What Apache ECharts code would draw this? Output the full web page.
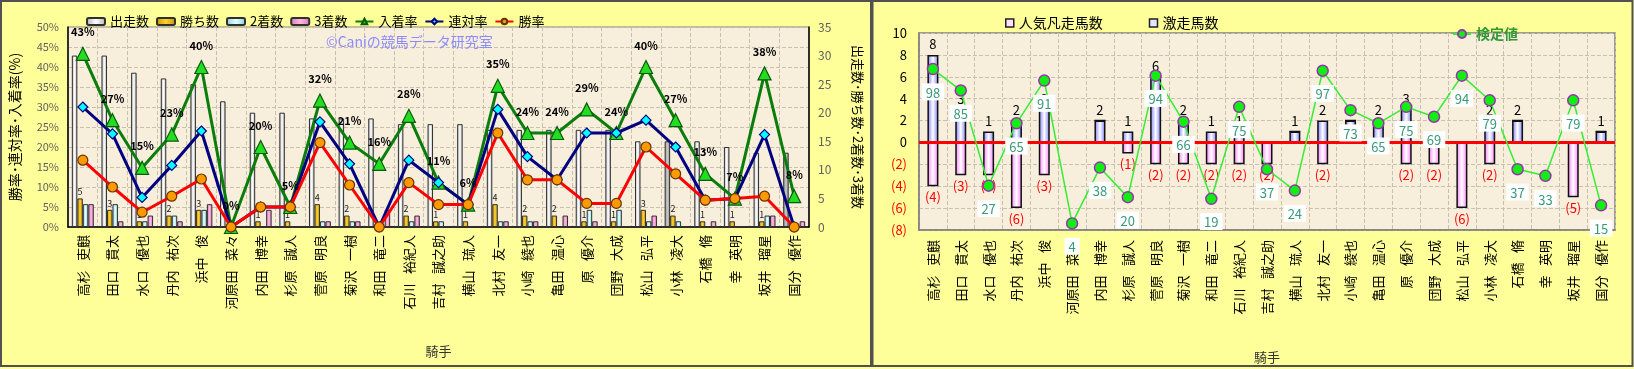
<!DOCTYPE html>
<html><head><meta charset="utf-8">
<script src="https://cdn.jsdelivr.net/npm/echarts@6/dist/echarts.min.js"></script>
<style>
html,body{margin:0;padding:0;background:#fff;overflow:hidden;}
#left{position:absolute;left:0;top:0;width:872px;height:369px;}
#right{position:absolute;left:872px;top:0;width:762px;height:369px;}
</style></head><body>
<div id="left"></div><div id="right"></div>
<script>
const jockeys = ['高杉 吏麒','田口 貫太','水口 優也','丹内 祐次','浜中 俊','河原田 菜々','内田 博幸','杉原 誠人','菅原 明良','菊沢 一樹','和田 竜二','石川 裕紀人','吉村 誠之助','横山 琉人','北村 友一','小崎 綾也','亀田 温心','原 優介','団野 大成','松山 弘平','小林 凌大','石橋 脩','幸 英明','坂井 瑠星','国分 優作'];
const runs    = [30,30,27,26,25,22,20,20,19,19,19,18,18,18,17,17,17,17,17,15,15,15,14,13,13];
const wins    = [5,3,1,2,3,0,1,1,4,2,0,2,1,1,4,2,2,1,1,3,2,1,1,1,0];
const seconds = [4,4,1,2,3,0,0,0,1,1,0,1,1,0,1,1,0,3,3,1,1,0,0,2,0];
const thirds  = [4,1,2,1,4,0,3,0,1,1,3,2,0,0,1,1,2,1,0,2,0,1,0,2,1];
const top3Rate  = [43.3,26.7,14.8,23.1,40,0,20,5,31.6,21.1,15.8,27.8,11.1,5.6,35.3,23.5,23.5,29.4,23.5,40,26.7,13.3,7.1,38.4,7.7];
const top2Rate  = [30,23.3,7.4,15.4,24,0,5,5,26.3,15.8,0,16.7,11.1,5.6,29.4,17.6,11.8,23.5,23.5,26.7,20,6.7,7.1,23.1,0];
const winRate   = [16.7,10,3.7,7.7,12,0,5,5,21.1,10.5,0,11.1,5.6,5.6,23.5,11.8,11.8,5.9,5.9,20,13.3,6.7,7.1,7.7,0];
const upsetCount = [8,3,1,2,3,0,2,1,6,2,1,1,0,1,2,2,2,3,0,0,2,2,0,0,1];
const flopCount  = [-4,-3,-3,-6,-3,0,0,-1,-2,-2,-2,-2,-2,0,-2,0,0,-2,-2,-6,-2,0,0,-5,0];
const testValue  = [98,85,27,65,91,4,38,20,94,66,19,75,37,24,97,73,65,75,69,94,79,37,33,79,15];
const rateTicks = {min:0, max:50, interval:5};
const countTicks = {min:0, max:35, interval:5};
const diffTicks = {min:-8, max:10, interval:2};

const FONT = "'Noto Sans CJK JP', sans-serif";
const nameFmt = v => v.replace(' ', '\u2002 ');
function hGrad(edge, mid){
  return new echarts.graphic.LinearGradient(0,0,1,0,[{offset:0,color:edge},{offset:0.5,color:mid},{offset:1,color:edge}]);
}
const gridLine = {show:true, lineStyle:{color:'#C8C0B0', type:'dashed', width:1}};

// ---------- LEFT CHART ----------
const left = echarts.init(document.getElementById('left'), null, {renderer:'canvas'});
const grayIdx = [20, 24];
const runsData = runs.map((v,i)=> grayIdx.includes(i) ? {value:v, itemStyle:{color:hGrad('#909090','#C8C8C8')}} : v);
function barSeries(name, data, color, extra){
  return Object.assign({
    name, type:'bar', yAxisIndex:1, data,
    barGap:'0%', barCategoryGap:'26%',
    itemStyle:{color, borderColor:'#303030', borderWidth:1},
    emphasis:{disabled:true}
  }, extra||{});
}
function lineSeries(name, data, lineColor, symbol, size, fill, border, extra){
  return Object.assign({
    name, type:'line', yAxisIndex:0, data,
    symbol, symbolSize:size,
    lineStyle:{color:lineColor, width:3},
    itemStyle:{color:fill, borderColor:border, borderWidth:1.2},
    emphasis:{disabled:true}
  }, extra||{});
}
left.setOption({
  animation:false,
  backgroundColor:'#FFFF99',
  textStyle:{fontFamily:FONT},
  graphic:[
    {type:'rect', shape:{x:1,y:1,width:870,height:365}, style:{fill:null, stroke:'#505050', lineWidth:2}, silent:true, z:100},
    {type:'text', left:326, top:35, style:{text:'©Caniの競馬データ研究室', fill:'#8C8CFF', font:'14px '+FONT}, silent:true, z:50}
  ],
  legend:{
    left:81, top:10, itemWidth:18, itemHeight:7, itemGap:7,
    textStyle:{fontSize:13, color:'#000', fontFamily:FONT},
    data:['出走数','勝ち数','2着数','3着数','入着率','連対率','勝率']
  },
  grid:{left:66, top:27, width:748, height:200, show:true, backgroundColor:'#F7EEDC', borderColor:'#808080', borderWidth:1},
  xAxis:{
    type:'category', data:jockeys, boundaryGap:true,
    name:'騎手', nameLocation:'middle', nameGap:118,
    nameTextStyle:{fontSize:13, color:'#333', fontFamily:FONT},
    axisLine:{lineStyle:{color:'#000', width:1.5}},
    axisTick:{show:false},
    axisLabel:{interval:0, rotate:90, fontSize:13, color:'#000', margin:8, fontFamily:FONT, formatter:nameFmt},
    splitLine:{show:true, interval:0, lineStyle:{color:'#C8C0B0', type:'dashed'}}
  },
  yAxis:[
    {type:'value', min:rateTicks.min, max:rateTicks.max, interval:rateTicks.interval,
     name:'勝率･連対率･入着率(%)', nameLocation:'middle', nameRotate:90, nameGap:46,
     nameTextStyle:{fontSize:14, color:'#000', fontFamily:FONT},
     axisLine:{show:true, lineStyle:{color:'#000', width:1.5}}, axisTick:{show:false},
     axisLabel:{formatter:'{value}%', fontSize:11, color:'#606060', margin:9},
     splitLine:gridLine},
    {type:'value', min:countTicks.min, max:countTicks.max, interval:countTicks.interval,
     name:'出走数･勝ち数･2着数･3着数', nameLocation:'middle', nameRotate:-90, nameGap:42,
     nameTextStyle:{fontSize:13, color:'#000', fontFamily:FONT},
     axisLine:{show:true, lineStyle:{color:'#000', width:1.5}}, axisTick:{show:false},
     axisLabel:{fontSize:12, color:'#606060', margin:9},
     splitLine:{show:false}}
  ],
  series:[
    barSeries('出走数', runsData, hGrad('#B0B0B0','#FFFFFF')),
    barSeries('勝ち数', wins, hGrad('#C89400','#FFD030'), {label:{show:true, position:'top', distance:2, fontSize:9, color:'#222', formatter:p=>p.value>0?p.value:''}}),
    barSeries('2着数', seconds, hGrad('#88D0E0','#E0FFFF')),
    barSeries('3着数', thirds, hGrad('#D878B8','#FFB8E4')),
    lineSeries('入着率', top3Rate, '#0A7D0A', 'triangle', 13, '#22DD22', '#0A5A0A',
      {label:{show:true, position:'top', distance:9, fontSize:11, fontWeight:'bold', color:'#000', formatter:p=>Math.round(p.value)+'%'}}),
    lineSeries('連対率', top2Rate, '#000080', 'diamond', 10, '#00FFFF', '#000080'),
    lineSeries('勝率', winRate, '#FF0000', 'circle', 10, '#FF9900', '#663300')
  ]
});

// ---------- RIGHT CHART ----------
const right = echarts.init(document.getElementById('right'), null, {renderer:'canvas'});
right.setOption({
  animation:false,
  backgroundColor:'#FFFF99',
  textStyle:{fontFamily:FONT},
  graphic:[
    {type:'rect', shape:{x:0.5,y:1,width:760,height:365}, style:{fill:null, stroke:'#505050', lineWidth:2}, silent:true, z:100}
  ],
  legend:[
    {left:128, top:11, itemWidth:8, itemHeight:8, itemGap:46,
     textStyle:{fontSize:14, color:'#000', fontFamily:FONT},
     data:[{name:'人気凡走馬数', icon:'rect', itemStyle:{color:'#FFE0FF', borderColor:'#202020', borderWidth:1.5}},
           {name:'激走馬数', icon:'rect', itemStyle:{color:'#E0E8FF', borderColor:'#202020', borderWidth:1.5}}]},
    {left:575, top:22, itemWidth:18, itemHeight:10,
     textStyle:{fontSize:14, color:'#339933', fontWeight:'bold', fontFamily:FONT},
     data:['検定値']}
  ],
  grid:{left:47, top:33, width:696, height:198.5, show:true, backgroundColor:'#F7EEDC', borderColor:'#808080', borderWidth:1.5},
  xAxis:{
    type:'category', data:jockeys, boundaryGap:true,
    name:'騎手', nameLocation:'middle', nameGap:121,
    nameTextStyle:{fontSize:13, color:'#333', fontFamily:FONT},
    axisLine:{onZero:false, lineStyle:{color:'#808080', width:1.5}},
    axisTick:{show:false},
    axisLabel:{interval:0, rotate:90, fontSize:13, color:'#000', margin:10, fontFamily:FONT, formatter:nameFmt},
    splitLine:{show:true, interval:0, lineStyle:{color:'#C8C0B0', type:'dashed'}}
  },
  yAxis:[
    {type:'value', min:diffTicks.min, max:diffTicks.max, interval:diffTicks.interval,
     axisLine:{show:true, lineStyle:{color:'#808080', width:1.5}}, axisTick:{show:false},
     axisLabel:{margin:12, formatter:v=> v<0 ? '{n|('+(-v)+')}' : '{p|'+v+'}',
       rich:{p:{color:'#000', fontSize:13, fontFamily:FONT}, n:{color:'#FF0000', fontSize:13, fontFamily:FONT}}},
     splitLine:gridLine},
    {type:'value', min:0, max:120, show:false, splitLine:{show:false}}
  ],
  series:[
    {name:'激走馬数', type:'bar', stack:'cnt', data:upsetCount, barWidth:11,
     itemStyle:{color:hGrad('#7878FF','#FFFFFF'), borderColor:'#101010', borderWidth:1.5},
     label:{show:true, position:'top', distance:4, fontSize:13, color:'#000', formatter:p=>p.value>0?p.value:''},
     markLine:{silent:true, symbol:'none', label:{show:false}, lineStyle:{color:'#FF0000', width:3, type:'solid'}, data:[{yAxis:0}]},
     emphasis:{disabled:true}},
    {name:'人気凡走馬数', type:'bar', stack:'cnt', data:flopCount, barWidth:11,
     itemStyle:{color:hGrad('#FF78FF','#FFFFFF'), borderColor:'#101010', borderWidth:1.5},
     label:{show:true, position:'bottom', distance:4, fontSize:13, color:'#FF0000', formatter:p=>p.value<0?'('+(-p.value)+')':''},
     emphasis:{disabled:true}},
    {name:'検定値', type:'line', yAxisIndex:1, data:testValue, z:5,
     symbol:'circle', symbolSize:11,
     lineStyle:{color:'#33EE33', width:1.5},
     itemStyle:{color:'#11EE11', borderColor:'#9933AA', borderWidth:1.5},
     label:{show:true, position:'bottom', distance:8, fontSize:13, color:'#3A9A78', backgroundColor:'#FFFFFF', padding:[3,4,1,4]},
     emphasis:{disabled:true}}
  ]
});
</script>
</body></html>
